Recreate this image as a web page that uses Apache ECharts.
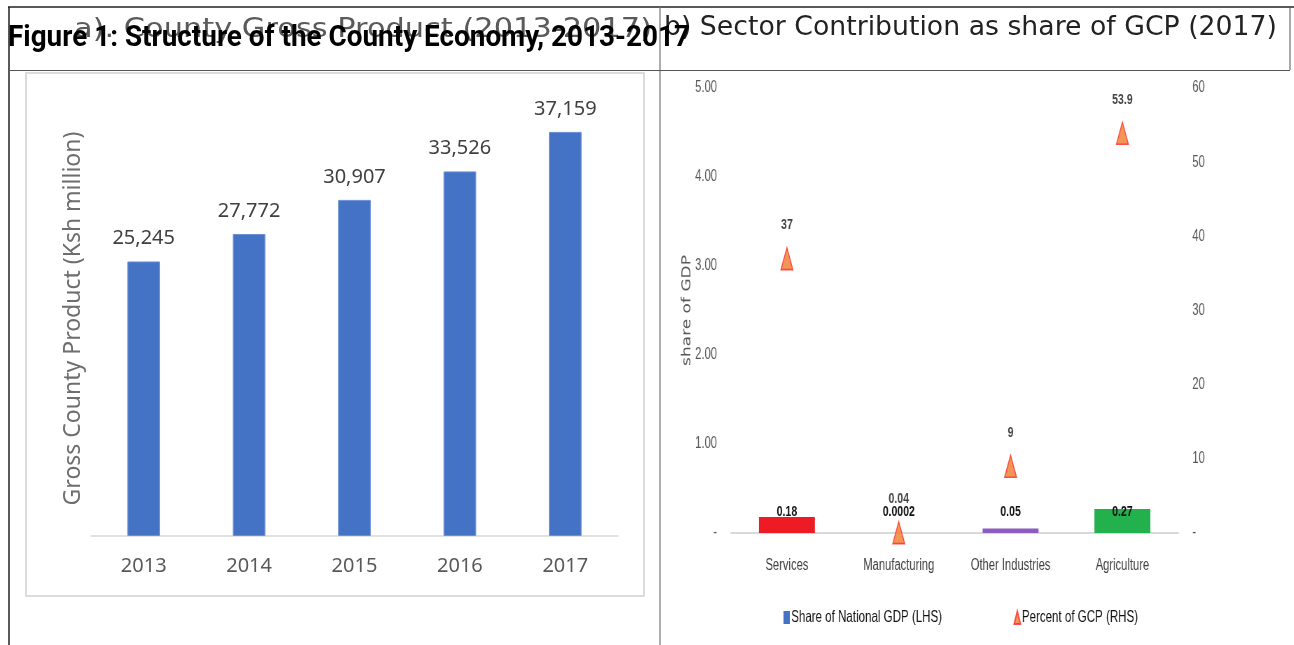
<!DOCTYPE html>
<html>
<head>
<meta charset="utf-8">
<script src="https://cdn.jsdelivr.net/npm/echarts@6/dist/echarts.min.js"></script>
<style>
html,body{margin:0;padding:0;background:#fff;}
#wrap{position:relative;width:1294px;height:645px;overflow:hidden;}
#main{position:absolute;left:0;top:0;width:1294px;height:645px;}
/* panel b) is drawn on a wider canvas and squeezed horizontally, like the condensed original */
#right{position:absolute;left:661px;top:71px;width:904px;height:574px;transform:scaleX(0.7);transform-origin:0 0;}
</style>
</head>
<body>
<div id="wrap">
  <div id="main"></div>
  <div id="right"></div>
</div>
<script>
// ---- data ----
const years = ['2013', '2014', '2015', '2016', '2017'];
const gcpValues = [25245, 27772, 30907, 33526, 37159];

const sectors = ['Services', 'Manufacturing', 'Other Industries', 'Agriculture'];
const shareNationalGDP = [0.18, 0.0002, 0.05, 0.27];
const percentGCP = [37, 0.04, 9, 53.9];
const sectorColors = ['#ed1c24', '#4472c4', '#8c5cc0', '#22b14c'];

const mainTitle = 'Figure 1: Structure of the County Economy, 2013-2017';
const leftTitle = 'a). County Gross Product (2013-2017)';
const rightTitle = 'b) Sector Contribution as share of GCP (2017)';
const leftYName = 'Gross County Product (Ksh million)';
const rightYName = 'share of GDP';
const legendNames = ['Share of National GDP (LHS)', 'Percent of GCP (RHS)'];

// ---- helpers ----
function measure(text, font) {
  const c = document.createElement('canvas').getContext('2d');
  c.font = font;
  return c.measureText(text).width;
}
const mainFont = 'bold 30px Roboto';
const mainScale = 682 / measure(mainTitle, mainFont);
const subFont = '26px "DejaVu Sans"';
const leftScale = 578 / measure(leftTitle, subFont);
const rightScale = 613 / measure(rightTitle, subFont);
const SANS = "'Liberation Sans', Arial, sans-serif";

// ---- panel a) + page frame ----
const mainChart = echarts.init(document.getElementById('main'), null, {renderer: 'canvas'});
mainChart.setOption({
  animation: false,
  backgroundColor: '#fff',
  textStyle: {fontFamily: 'Noto Sans'},
  grid: {left: 91, right: 676, top: 101, bottom: 109},
  xAxis: {
    type: 'category', data: years,
    axisLine: {lineStyle: {color: '#d9d9d9', width: 1.5}},
    axisTick: {show: false},
    axisLabel: {color: '#595959', fontSize: 20, margin: 20, fontFamily: 'Noto Sans'}
  },
  yAxis: {
    type: 'value', min: 0, max: 40000, interval: 10000,
    axisLabel: {show: false}, splitLine: {show: false}, axisLine: {show: false}, axisTick: {show: false},
    name: leftYName, nameLocation: 'middle', nameGap: 6,
    nameTextStyle: {color: '#6e6e6e', fontSize: 23, fontFamily: 'Noto Sans'}
  },
  series: [{
    type: 'bar', data: gcpValues, barWidth: '31%',
    itemStyle: {color: '#4472c4', borderColor: '#6a8fd6', borderWidth: 1},
    label: {
      show: true, position: 'top', distance: 13, color: '#404040', fontSize: 20,
      fontFamily: 'Noto Sans', formatter: p => p.value.toLocaleString('en-US')
    }
  }],
  graphic: [
    {type: 'rect', z: 1, shape: {x: 26, y: 73, width: 618, height: 523}, style: {fill: 'none', stroke: '#dcdcdc', lineWidth: 2}},
    {type: 'line', z: 5, shape: {x1: 8, y1: 7, x2: 1294, y2: 7}, style: {stroke: '#222', lineWidth: 1.5}},
    {type: 'line', z: 5, shape: {x1: 9, y1: 7, x2: 9, y2: 645}, style: {stroke: '#222', lineWidth: 1.5}},
    {type: 'line', z: 5, shape: {x1: 660, y1: 7, x2: 660, y2: 645}, style: {stroke: '#777', lineWidth: 1.2}},
    {type: 'line', z: 5, shape: {x1: 9, y1: 70.5, x2: 1290, y2: 70.5}, style: {stroke: '#555', lineWidth: 1.2}},
    {type: 'line', z: 5, shape: {x1: 1290, y1: 7, x2: 1290, y2: 70}, style: {stroke: '#555', lineWidth: 1}},
    {type: 'text', z: 10, x: 74, y: 30, scaleX: leftScale, style: {text: leftTitle, fill: '#5a5a5a', font: subFont, verticalAlign: 'middle'}},
    {type: 'text', z: 10, x: 664, y: 28, scaleX: rightScale, style: {text: rightTitle, fill: '#222', font: subFont, verticalAlign: 'middle'}},
    {type: 'text', z: 20, x: 8, y: 38, scaleX: mainScale, style: {text: mainTitle, fill: '#000', font: mainFont, verticalAlign: 'middle'}}
  ]
});

// ---- panel b) ----
const rightChart = echarts.init(document.getElementById('right'), null, {renderer: 'canvas'});
rightChart.setOption({
  animation: false,
  textStyle: {fontFamily: SANS},
  grid: {left: 100, right: 165, top: 17, bottom: 112},
  xAxis: {
    type: 'category', data: sectors,
    axisLine: {lineStyle: {color: '#d9d9d9', width: 2}},
    axisTick: {show: false},
    axisLabel: {color: '#404040', fontSize: 16, margin: 25, interval: 0, fontFamily: SANS}
  },
  yAxis: [
    {
      type: 'value', min: 0, max: 5, interval: 1, position: 'left',
      splitLine: {show: false}, axisLine: {show: false}, axisTick: {show: false},
      axisLabel: {
        color: '#595959', fontSize: 16, margin: 20, fontFamily: SANS,
        formatter: v => v === 0 ? '-' : v.toFixed(2)
      },
      name: rightYName, nameLocation: 'middle', nameGap: 54, nameMoveOverlap: false,
      nameTextStyle: {color: '#595959', fontSize: 17, fontFamily: 'DejaVu Sans'}
    },
    {
      type: 'value', min: 0, max: 60, interval: 10, position: 'right',
      splitLine: {show: false}, axisLine: {show: false}, axisTick: {show: false},
      axisLabel: {
        color: '#595959', fontSize: 16, margin: 20, fontFamily: SANS,
        formatter: v => v === 0 ? '-' : String(v)
      }
    }
  ],
  legend: {
    data: [
      {name: legendNames[0], icon: 'rect'},
      {name: legendNames[1], icon: 'triangle'}
    ],
    left: 170, top: 533, itemWidth: 9, itemHeight: 13, itemGap: 102,
    textStyle: {color: '#111', fontSize: 16.5, fontFamily: SANS, padding: [0, 0, 0, -3]}
  },
  series: [
    {
      name: legendNames[0], type: 'bar', yAxisIndex: 0, barWidth: '50%',
      itemStyle: {color: '#4472c4'},
      data: shareNationalGDP.map((v, i) => ({value: v, itemStyle: {color: sectorColors[i]}})),
      label: {
        show: true, position: 'insideBottom', distance: 14, color: '#111', fontSize: 15, fontWeight: 'bold',
        fontFamily: SANS, formatter: p => String(p.value)
      }
    },
    {
      name: legendNames[1], type: 'scatter', yAxisIndex: 1, data: percentGCP,
      symbol: 'triangle', symbolSize: [17, 22], z: 3,
      itemStyle: {color: '#f07a2a', borderColor: '#ff2a2a', borderWidth: 1.5},
      label: {
        show: true, position: 'top', distance: 14, color: '#111', fontSize: 15, fontWeight: 'bold',
        fontFamily: SANS, formatter: p => String(p.value)
      }
    }
  ]
});
</script>
</body>
</html>
